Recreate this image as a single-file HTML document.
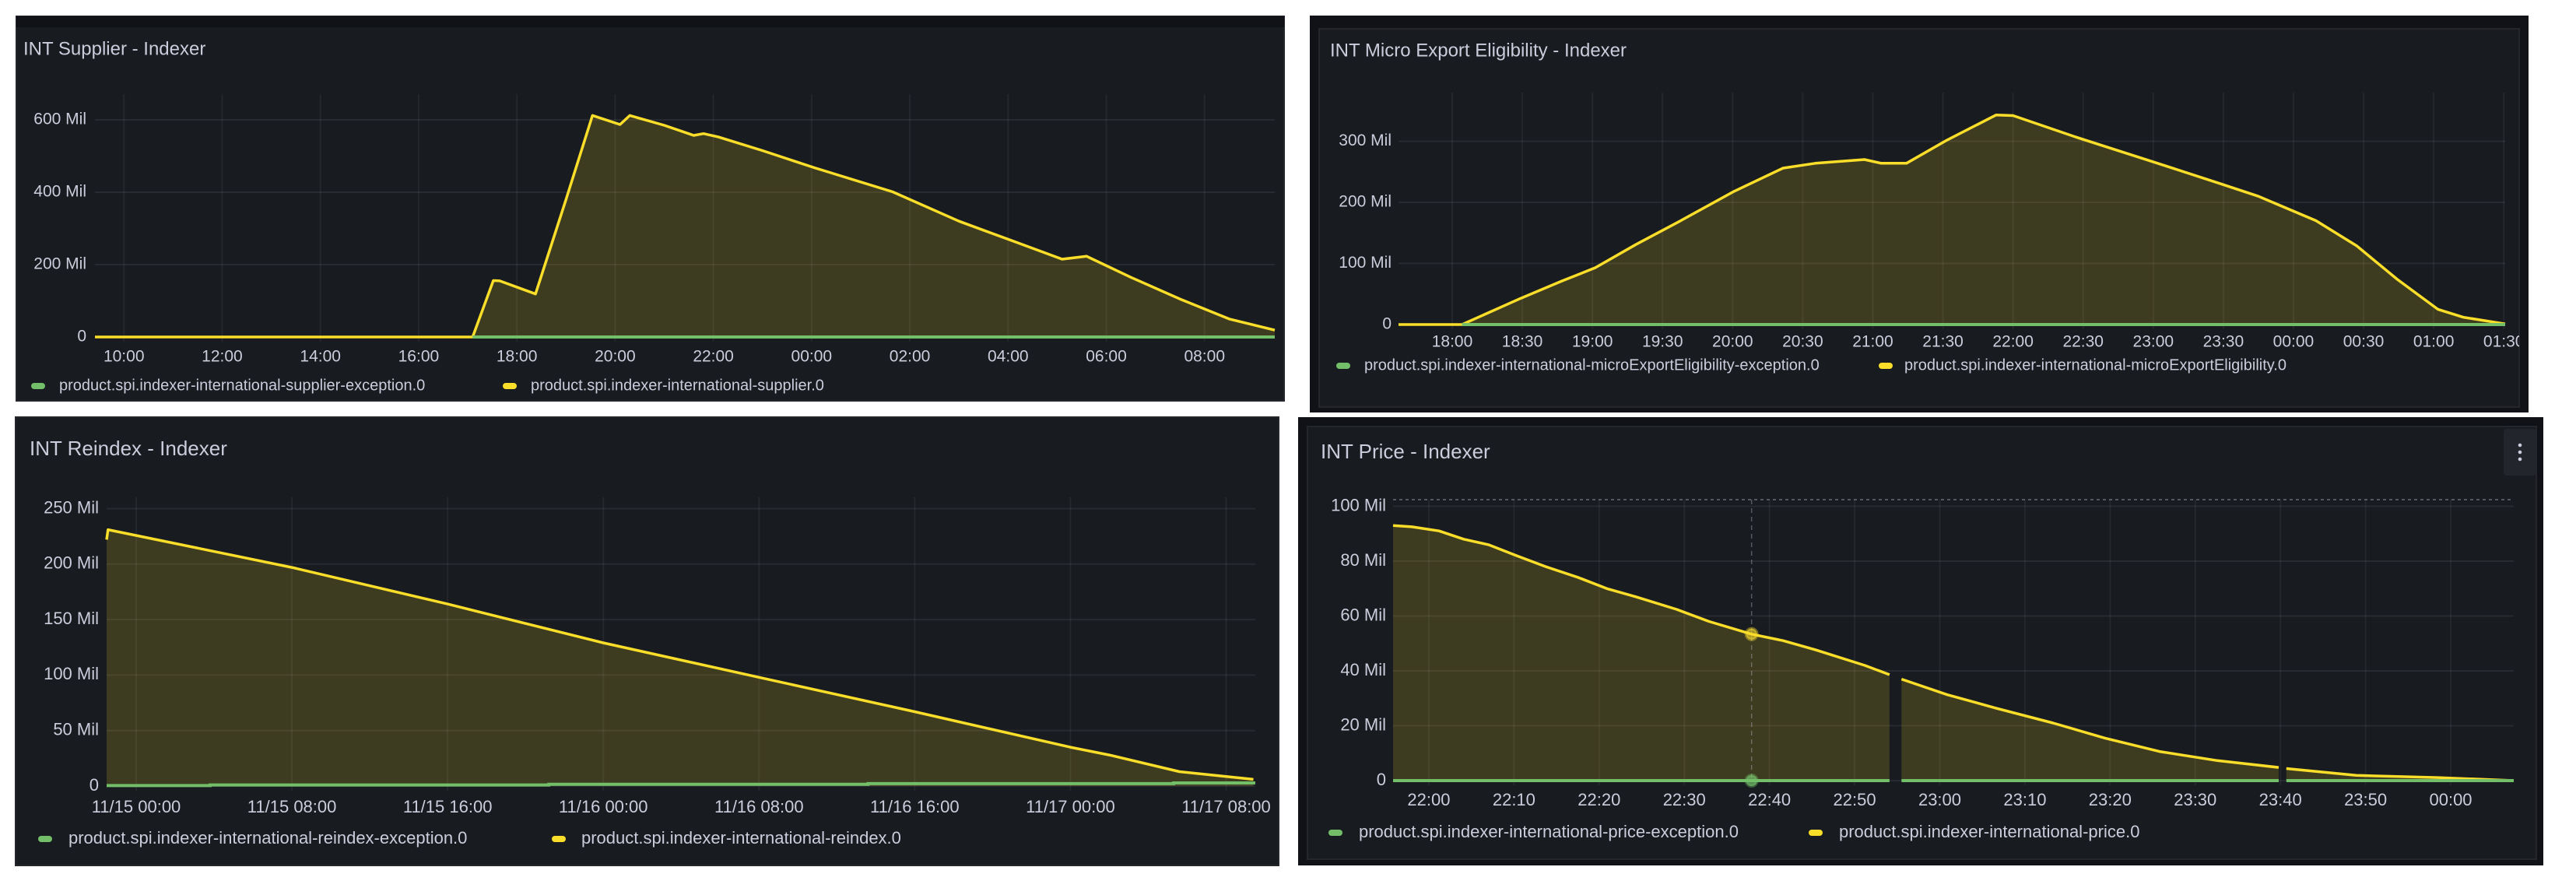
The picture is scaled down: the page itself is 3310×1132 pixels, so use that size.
<!DOCTYPE html>
<html><head><meta charset="utf-8"><style>
html,body{margin:0;padding:0;background:#fff;width:3310px;height:1132px;overflow:hidden}
svg{display:block;font-family:"Liberation Sans",sans-serif}
</style></head><body>
<svg id="page" width="3310" height="1132" viewBox="0 0 3310 1132" xmlns="http://www.w3.org/2000/svg">
<rect x="0" y="0" width="3310" height="1132" fill="#ffffff"/>
</svg>
<script>
// ===== Panel 1: INT Supplier (x = hours since 10:00) =====
const supplierTickHours = [0,2,4,6,8,10,12,14,16,18,20,22];
const supplierTickLabels = ["10:00","12:00","14:00","16:00","18:00","20:00","22:00","00:00","02:00","04:00","06:00","08:00"];
const supplierYTicks = [0,200,400,600];
const supplierYLabels = ["0","200 Mil","400 Mil","600 Mil"];
const supplierHours = [-0.59,7.1,7.52,7.65,8.38,9.0,9.54,10.1,10.3,11.0,11.6,11.8,12.1,13.0,14.05,15.65,17.0,18.0,19.1,19.6,20.5,21.5,22.5,23.43];
const supplierValues = [0,0,156,155,119,380,612,587,612,585,557,562,553,515,468,401,320,270,215,223,165,105,50,19];
const supplierExcHours = [7.1,23.43];
const supplierExcValues = [0,0];

// ===== Panel 2: INT Micro Export Eligibility (x = hours since 18:00) =====
const microTickHours = [0,0.5,1,1.5,2,2.5,3,3.5,4,4.5,5,5.5,6,6.5,7,7.5];
const microTickLabels = ["18:00","18:30","19:00","19:30","20:00","20:30","21:00","21:30","22:00","22:30","23:00","23:30","00:00","00:30","01:00","01:30"];
const microYTicks = [0,100,200,300];
const microYLabels = ["0","100 Mil","200 Mil","300 Mil"];
const microHours = [-0.383,0.07,0.49,0.78,1.02,1.31,1.63,2.01,2.36,2.59,2.94,3.06,3.24,3.53,3.88,4.0,4.46,4.99,5.46,5.75,6.16,6.45,6.74,7.03,7.21,7.51];
const microValues = [0,0,43,71,93,131,170,218,256,264,270,264,264,302,343,342,306,267,232,210,170,129,74,25,12,1];
const microExcHours = [0.07,7.51];
const microExcValues = [0,0];

// ===== Panel 3: INT Reindex (x = hours since 11/15 00:00) =====
const reindexTickHours = [0,8,16,24,32,40,48,56];
const reindexTickLabels = ["11/15 00:00","11/15 08:00","11/15 16:00","11/16 00:00","11/16 08:00","11/16 16:00","11/17 00:00","11/17 08:00"];
const reindexYTicks = [0,50,100,150,200,250];
const reindexYLabels = ["0","50 Mil","100 Mil","150 Mil","200 Mil","250 Mil"];
const reindexHours = [-1.52,-1.45,8,16,24,32,40,48,50,53.6,57.4];
const reindexValues = [222,231,197,164,129,98,67,35,28,13,6];
const reindexExcHours = [-1.52,3.8,3.8,21.2,21.2,37.6,37.6,53.3,53.3,57.5];
const reindexExcValues = [0.4,0.4,1.0,1.0,1.6,1.6,2.2,2.2,2.8,2.8];

// ===== Panel 4: INT Price (x = minutes since 22:00) =====
const priceTickMinutes = [0,10,20,30,40,50,60,70,80,90,100,110,120];
const priceTickLabels = ["22:00","22:10","22:20","22:30","22:40","22:50","23:00","23:10","23:20","23:30","23:40","23:50","00:00"];
const priceYTicks = [0,20,40,60,80,100];
const priceYLabels = ["0","20 Mil","40 Mil","60 Mil","80 Mil","100 Mil"];
const priceMinutes = [-4.2,-2.0,1.2,4.1,7.0,10.3,13.7,17.6,20.9,24.3,29.1,32.9,37.9,41.6,45.4,51.2,54.1,null,55.5,60.9,66.6,73.3,79.4,85.8,92.6,99.8,null,100.7,108.9,118.5,127.4];
const priceValues = [93,92.5,91,88,86,82,78,74,70,67,62.4,58,53.4,51,47.7,42,38.6,null,37,31.3,26.4,21,15.5,10.6,7.3,4.8,null,4.4,1.9,1.1,0];
const priceExcMinutes = [-4.2,54.1,null,55.5,99.8,null,100.7,127.4];
const priceExcValues = [0,0,null,0,0,null,0,0];
const priceHoverMinute = 37.9;
const priceHoverValue = 53.4;

const NS = "http://www.w3.org/2000/svg";
const svg = document.getElementById('page');
function mk(tag, attrs, parent){
  const e = document.createElementNS(NS, tag);
  for (const k in attrs) e.setAttribute(k, attrs[k]);
  (parent||svg).appendChild(e);
  return e;
}
const YEL = "#fade2a", GRN = "#73bf69", TXT = "#ccccdc";

function buildPath(xs, ys, sx, sy){
  let d = "", pen = false;
  for (let i=0;i<xs.length;i++){
    if (xs[i]===null || ys[i]===null){ pen=false; continue; }
    d += (pen?"L":"M") + sx(xs[i]).toFixed(1) + "," + sy(ys[i]).toFixed(1) + " ";
    pen = true;
  }
  return d;
}
function buildArea(xs, ys, sx, sy, base){
  let d = "", seg = [];
  const flush = () => {
    if (seg.length>1){
      d += "M" + sx(seg[0][0]).toFixed(1) + "," + base + " ";
      seg.forEach(p => d += "L" + sx(p[0]).toFixed(1) + "," + sy(p[1]).toFixed(1) + " ");
      d += "L" + sx(seg[seg.length-1][0]).toFixed(1) + "," + base + " Z ";
    }
    seg = [];
  };
  for (let i=0;i<xs.length;i++){
    if (xs[i]===null || ys[i]===null){ flush(); continue; }
    seg.push([xs[i], ys[i]]);
  }
  flush();
  return d;
}

function panel(c){
  const g = mk('g', {});
  
  
  if (c.outer){
    const o = mk('rect', {x:c.outer[0], y:c.outer[1], width:c.outer[2], height:c.outer[3], fill:"#111217"}, g);
    
    
  }
  const bg = mk('rect', {x:c.box[0], y:c.box[1], width:c.box[2], height:c.box[3], fill:"#181b1f", stroke:"#24262c", "stroke-width":2}, g);
  
  
  if (c.strip){
    const s = mk('rect', {x:c.box[0], y:c.box[1], width:c.box[2], height:c.strip, fill:"#111217"}, g);
    
    
  }
  const clipId = c.name + '-clip';
  const cp = mk('clipPath', {id: clipId}, g);
  mk('rect', {x:c.box[0], y:c.box[1], width:c.box[2], height:c.box[3]}, cp);
  const inner = mk('g', {"clip-path":"url(#"+clipId+")"}, g);

  const t = mk('text', {x:c.titleX, y:c.titleY, fill:TXT, "font-size":c.titleSize, "font-weight":"500", "dominant-baseline":"middle"}, inner);
  t.textContent = c.title;
  
  

  const sx = v => c.L + (v - c.xmin) / (c.xmax - c.xmin) * (c.R - c.L);
  const sy = v => c.zero - v * c.unitPx;

  // grid
  c.yTicks.forEach((v,i) => {
    const gl = mk('line', {x1:c.L, x2:c.R, y1:sy(v), y2:sy(v), stroke:"rgba(204,204,220,0.09)", "stroke-width":2}, inner);
    
    
    const tl = mk('text', {x:c.yLabelX, y:sy(v), fill:TXT, "font-size":c.tickSize, "text-anchor":"end", "dominant-baseline":"middle"}, inner);
    tl.textContent = c.yLabels[i];
    
    
  });
  c.xTicks.forEach((v,i) => {
    const gl = mk('line', {x1:sx(v), x2:sx(v), y1:c.top, y2:c.zero+6, stroke:"rgba(204,204,220,0.07)", "stroke-width":2}, inner);
    
    
    const tl = mk('text', {x:sx(v), y:c.xLabelY, fill:TXT, "font-size":c.tickSize, "text-anchor":"middle", "dominant-baseline":"middle"}, inner);
    tl.textContent = c.xLabels[i];
    
    
  });
  if (c.dottedTop){
    const dl = mk('line', {x1:c.L, x2:c.R, y1:c.top, y2:c.top, stroke:"rgba(204,204,220,0.35)", "stroke-width":2, "stroke-dasharray":"4,4"}, inner);
    
    
  }
  // series
  const area = mk('path', {d: buildArea(c.sX, c.sY, sx, sy, c.zero), fill:"rgba(250,222,42,0.17)"}, inner);
  
  
  const ln = mk('path', {d: buildPath(c.sX, c.sY, sx, sy), fill:"none", stroke:YEL, "stroke-width":3.5, "stroke-linejoin":"round"}, inner);
  
  
  const ex = mk('path', {d: buildPath(c.eX, c.eY, sx, sy), fill:"none", stroke:GRN, "stroke-width":4}, inner);
  
  

  if (c.hover){
    const hx = sx(c.hover[0]);
    const hl = mk('line', {x1:hx, x2:hx, y1:c.top, y2:c.zero, stroke:"rgba(204,204,220,0.35)", "stroke-width":1.5, "stroke-dasharray":"6,5"}, inner);
    
    
    const p1 = mk('circle', {cx:hx, cy:sy(c.hover[1]), r:7, fill:"rgba(250,222,42,0.6)", stroke:"rgba(250,222,42,0.4)", "stroke-width":4}, inner);
    
    
    const p2 = mk('circle', {cx:hx, cy:sy(0), r:7, fill:"rgba(115,191,105,0.7)", stroke:"rgba(115,191,105,0.4)", "stroke-width":4}, inner);
    
    
  }

  // legend
  c.legend.forEach((L, i) => {
    const lg = mk('g', {}, inner);
    
    
    mk('rect', {x:L[0]-9, y:c.legendY-4, width:18, height:8, rx:4, fill: i===0?GRN:YEL}, lg);
    const tx = mk('text', {x:L[1], y:c.legendY, fill:TXT, "font-size":c.legendSize, "dominant-baseline":"middle"}, lg);
    tx.textContent = L[2];
  });

  if (c.menu){
    const mb = mk('g', {}, inner);
    
    
    mk('rect', {x:c.menu[0], y:c.menu[1], width:42, height:60, rx:4, fill:"#22252b"}, mb);
    [ -9, 0, 9 ].forEach(d => mk('circle', {cx:c.menu[0]+21, cy:c.menu[1]+30+d, r:2.3, fill:TXT}, mb));
  }
}

panel({name:"supplier-panel", box:[21,21,1629,494], strip:14,
  title:"INT Supplier - Indexer", titleX:30, titleY:64, titleSize:24,
  L:122, R:1638, xmin:-0.59, xmax:23.43, zero:433, unitPx:93/200, top:121,
  yTicks:supplierYTicks, yLabels:supplierYLabels, yLabelX:111,
  xTicks:supplierTickHours, xLabels:supplierTickLabels, xLabelY:459,
  tickSize:21, sX:supplierHours, sY:supplierValues, eX:supplierExcHours, eY:supplierExcValues,
  legendY:496, legendSize:20,
  legend:[[49,76,"product.spi.indexer-international-supplier-exception.0"],[655,682,"product.spi.indexer-international-supplier.0"]]});

panel({name:"micro-export-panel", outer:[1683,20,1566,510], box:[1695,37,1542,486],
  title:"INT Micro Export Eligibility - Indexer", titleX:1709, titleY:66, titleSize:24,
  L:1797, R:3219, xmin:-0.383, xmax:7.51, zero:417, unitPx:78.5/100, top:119,
  yTicks:microYTicks, yLabels:microYLabels, yLabelX:1788,
  xTicks:microTickHours, xLabels:microTickLabels, xLabelY:440,
  tickSize:21, sX:microHours, sY:microValues, eX:microExcHours, eY:microExcValues,
  legendY:470, legendSize:20,
  legend:[[1726,1753,"product.spi.indexer-international-microExportEligibility-exception.0"],[2423,2447,"product.spi.indexer-international-microExportEligibility.0"]]});

panel({name:"reindex-panel", box:[20,536,1623,576],
  title:"INT Reindex - Indexer", titleX:38, titleY:578, titleSize:26,
  L:137, R:1613, xmin:-1.52, xmax:57.5, zero:1010, unitPx:71.3/50, top:639,
  yTicks:reindexYTicks, yLabels:reindexYLabels, yLabelX:127,
  xTicks:reindexTickHours, xLabels:reindexTickLabels, xLabelY:1038,
  tickSize:22, sX:reindexHours, sY:reindexValues, eX:reindexExcHours, eY:reindexExcValues,
  legendY:1078, legendSize:22,
  legend:[[58,88,"product.spi.indexer-international-reindex-exception.0"],[718,747,"product.spi.indexer-international-reindex.0"]]});

panel({name:"price-panel", outer:[1668,536,1600,576], box:[1680,548,1579,556],
  title:"INT Price - Indexer", titleX:1697, titleY:582, titleSize:26,
  L:1790, R:3230, xmin:-4.2, xmax:127.4, zero:1003, unitPx:70.5/20, top:642,
  yTicks:priceYTicks, yLabels:priceYLabels, yLabelX:1781,
  xTicks:priceTickMinutes, xLabels:priceTickLabels, xLabelY:1029,
  tickSize:22, sX:priceMinutes, sY:priceValues, eX:priceExcMinutes, eY:priceExcValues,
  legendY:1070, legendSize:22, dottedTop:true, hover:[priceHoverMinute, priceHoverValue],
  menu:[3217,551],
  legend:[[1716,1746,"product.spi.indexer-international-price-exception.0"],[2333,2363,"product.spi.indexer-international-price.0"]]});
</script>
</body></html>
